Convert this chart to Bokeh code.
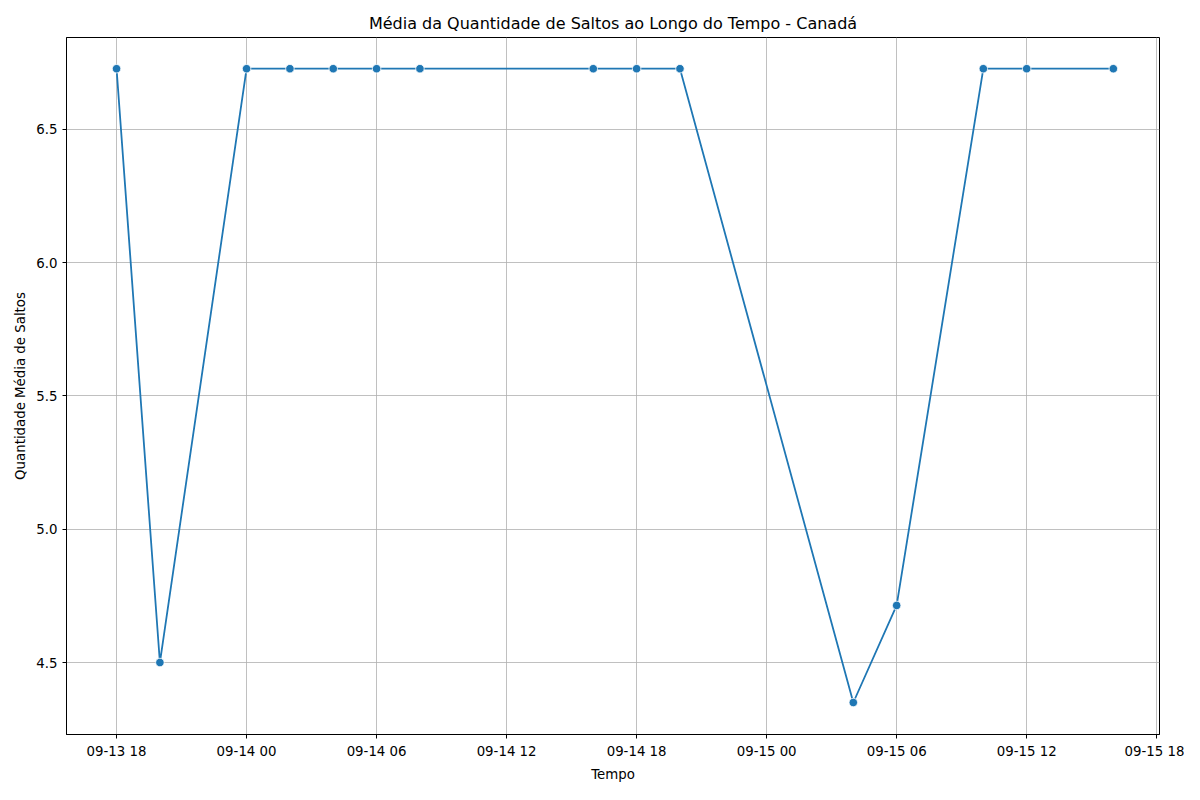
import pandas as pd
from bokeh.plotting import figure
from bokeh.models import Range1d, FixedTicker, DatetimeTickFormatter, PrintfTickFormatter
from bokeh.embed import file_html
from bokeh.resources import INLINE

times = ["2023-09-13 18:00", "2023-09-13 20:00", "2023-09-14 00:00", "2023-09-14 02:00",
         "2023-09-14 04:00", "2023-09-14 06:00", "2023-09-14 08:00", "2023-09-14 16:00",
         "2023-09-14 18:00", "2023-09-14 20:00", "2023-09-15 04:00", "2023-09-15 06:00",
         "2023-09-15 10:00", "2023-09-15 12:00", "2023-09-15 16:00"]
saltos = [6.727, 4.5, 6.727, 6.727, 6.727, 6.727, 6.727, 6.727,
          6.727, 6.727, 4.35, 4.714, 6.727, 6.727, 6.727]
tick_times = ["2023-09-13 18:00", "2023-09-14 00:00", "2023-09-14 06:00", "2023-09-14 12:00",
              "2023-09-14 18:00", "2023-09-15 00:00", "2023-09-15 06:00", "2023-09-15 12:00",
              "2023-09-15 18:00"]

x = pd.to_datetime(times)
ticks = [t.value / 1e6 for t in pd.to_datetime(tick_times)]
x0 = pd.Timestamp("2023-09-13 18:00")

font = "DejaVu Sans"
p = figure(width=1184, height=784, x_axis_type="datetime", output_backend="svg",
           toolbar_location=None, title="Média da Quantidade de Saltos ao Longo do Tempo - Canadá",
           x_axis_label="Tempo", y_axis_label="Quantidade Média de Saltos",
           min_border_left=66, min_border_right=25, min_border_top=37, min_border_bottom=41)
p.x_range = Range1d((x0 - pd.Timedelta(hours=2.31)).value / 1e6,
                    (x0 + pd.Timedelta(hours=48.13)).value / 1e6)
p.y_range = Range1d(4.23, 6.844)
p.xaxis.ticker = FixedTicker(ticks=ticks)
p.xaxis.formatter = DatetimeTickFormatter(hours="%m-%d %H", days="%m-%d %H")
p.yaxis.ticker = FixedTicker(ticks=[4.5, 5.0, 5.5, 6.0, 6.5])
p.yaxis.formatter = PrintfTickFormatter(format="%.1f")

p.title.align = "center"
p.title.text_font = font
p.title.text_font_style = "normal"
p.title.text_font_size = "12pt"
p.title.text_color = "black"
for ax in (p.xaxis, p.yaxis):
    ax.axis_label_text_font = font
    ax.axis_label_text_font_style = "normal"
    ax.axis_label_text_font_size = "10pt"
    ax.axis_label_text_color = "black"
    ax.major_label_text_font = font
    ax.major_label_text_font_size = "10pt"
    ax.major_label_text_color = "black"
    ax.minor_tick_line_color = None
    ax.axis_line_color = "black"
    ax.major_tick_line_color = "black"
    ax.major_tick_out = 4
    ax.major_tick_in = 0
p.grid.grid_line_color = "#b0b0b0"
p.grid.grid_line_width = 0.8
p.outline_line_color = "black"

p.line(x, saltos, line_color="#1f77b4", line_width=1.8)
p.scatter(x, saltos, size=8.5, fill_color="#1f77b4", line_color="white", line_width=0.8)

open("out.html", "w").write(file_html(p, INLINE))
